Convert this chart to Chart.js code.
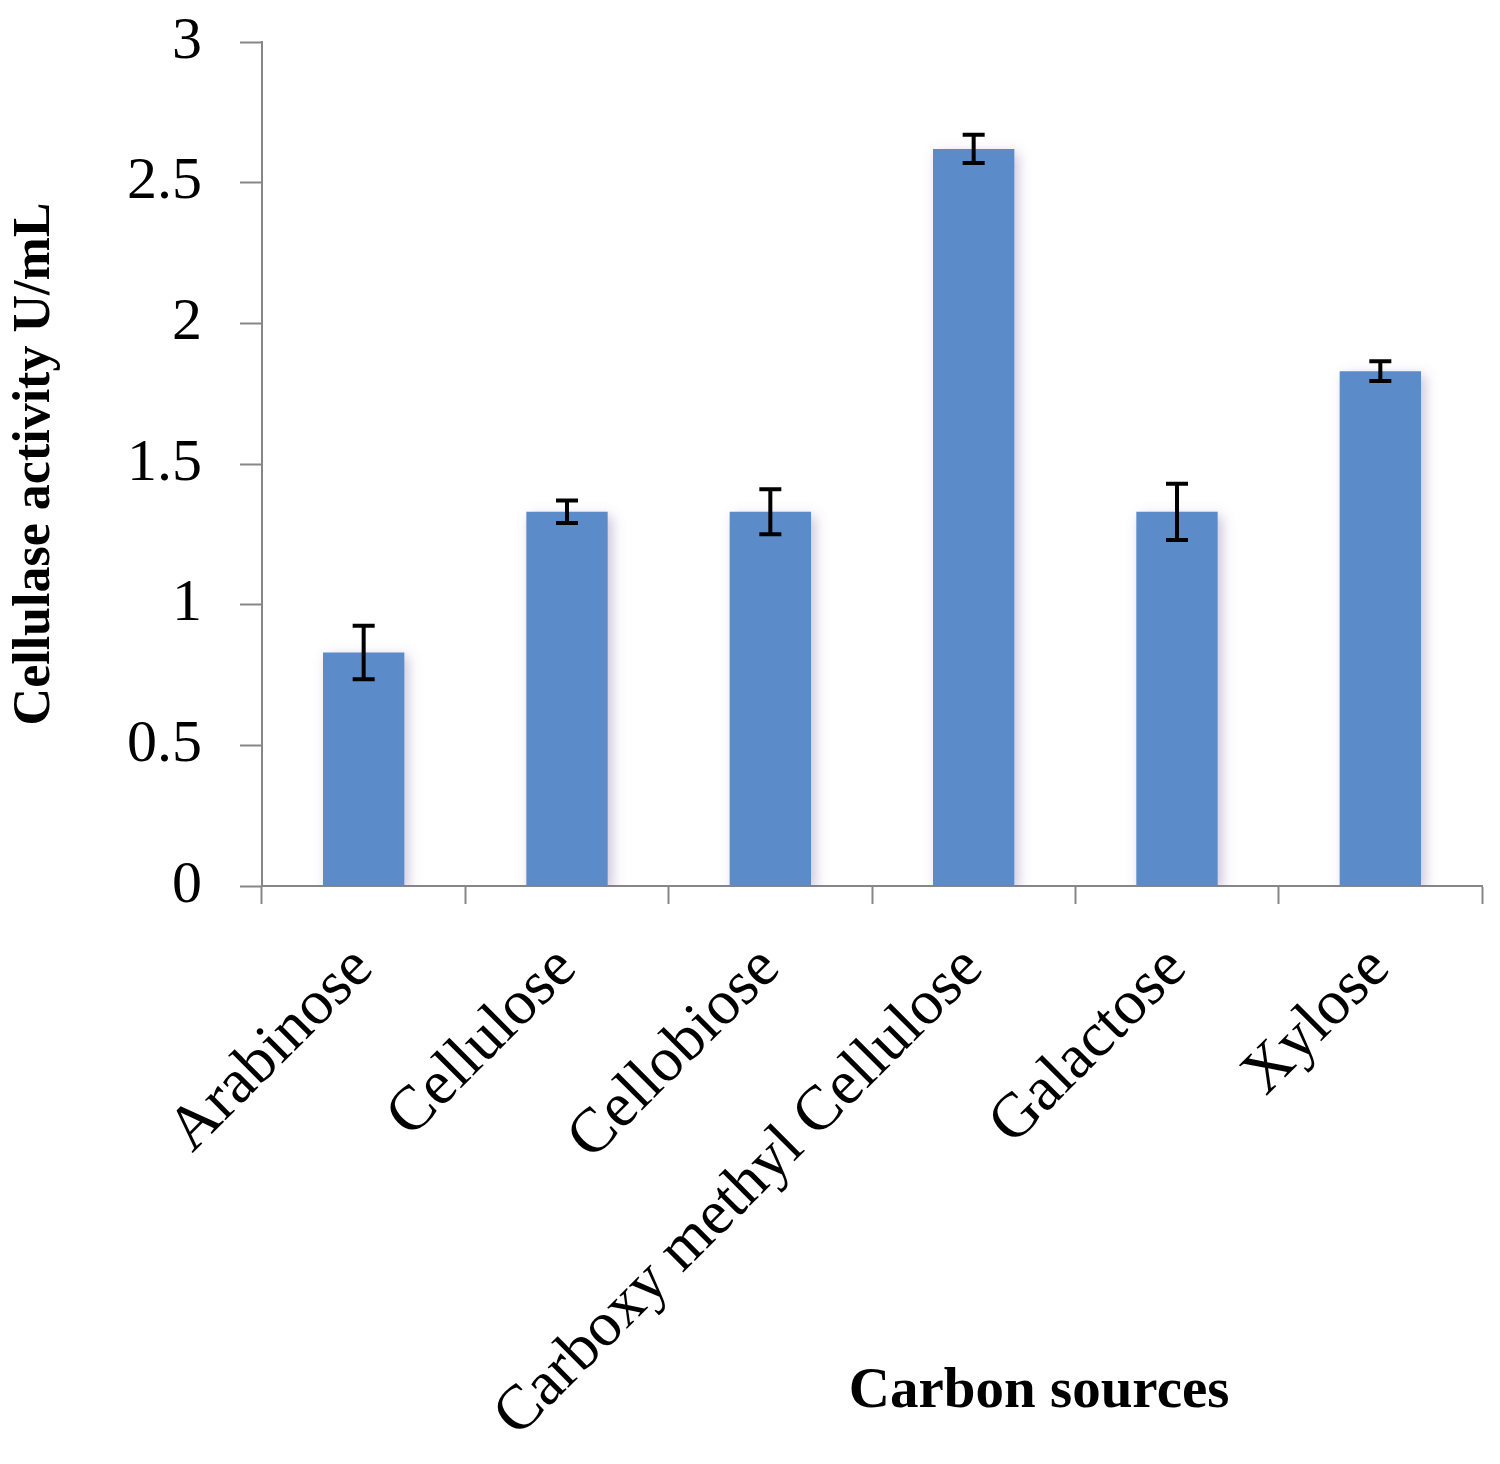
<!DOCTYPE html>
<html>
<head>
<meta charset="utf-8">
<script src="https://cdn.jsdelivr.net/npm/chart.js@4.4.0/dist/chart.umd.min.js"></script>
<style>
  html, body { margin: 0; padding: 0; background: #fff; }
  #wrap { width: 1500px; height: 1464px; }
</style>
</head>
<body>
<div id="wrap"><canvas id="barchart" width="1500" height="1464"></canvas></div>
<script>
const categories = ['Arabinose', 'Cellulose', 'Cellobiose', 'Carboxy methyl Cellulose', 'Galactose', 'Xylose'];
const activity = [0.83, 1.33, 1.33, 2.62, 1.33, 1.83]; // U/mL
const errors = [0.095, 0.04, 0.08, 0.05, 0.1, 0.035];
const yTicks = [0, 0.5, 1, 1.5, 2, 2.5, 3];

const serif = "'Liberation Serif', 'Times New Roman', serif";
const axisGray = '#878787';

// soft shadow under the bars, then error bars on top
const barExtras = {
  id: 'barExtras',
  beforeDatasetsDraw(chart) {
    const ctx = chart.ctx;
    ctx.save();
    ctx.shadowColor = 'rgba(110, 80, 150, 0.35)';
    ctx.shadowBlur = 12;
    ctx.shadowOffsetX = 4;
    ctx.shadowOffsetY = 4;
  },
  afterDatasetsDraw(chart) {
    const ctx = chart.ctx;
    ctx.restore();
    const y = chart.scales.y;
    const meta = chart.getDatasetMeta(0);
    ctx.save();
    ctx.strokeStyle = '#000';
    ctx.lineWidth = 4;
    meta.data.forEach((bar, i) => {
      const x = bar.x;
      const top = y.getPixelForValue(activity[i] + errors[i]);
      const bot = y.getPixelForValue(activity[i] - errors[i]);
      ctx.beginPath();
      ctx.moveTo(x, top); ctx.lineTo(x, bot);
      ctx.moveTo(x - 11, top); ctx.lineTo(x + 11, top);
      ctx.moveTo(x - 11, bot); ctx.lineTo(x + 11, bot);
      ctx.stroke();
    });
    ctx.restore();
  },
  afterDraw(chart) {
    // x axis title sits beside the long rotated label, not below it
    const ctx = chart.ctx;
    const area = chart.chartArea;
    ctx.save();
    ctx.fillStyle = '#000';
    ctx.font = 'bold 57px ' + serif;
    ctx.textAlign = 'center';
    ctx.textBaseline = 'middle';
    ctx.fillText('Carbon sources', area.left + (area.right - area.left) * 0.637, 1392);
    ctx.restore();
  }
};

const ctx = document.getElementById('barchart').getContext('2d');
const barchart = new Chart(ctx, {
  type: 'bar',
  data: {
    labels: categories,
    datasets: [{
      label: 'Cellulase activity',
      data: activity,
      backgroundColor: '#5B8CC9',
      borderWidth: 0,
      barPercentage: 0.8,
      categoryPercentage: 0.5
    }]
  },
  options: {
    responsive: false,
    animation: false,
    layout: { padding: { top: 42, right: 18, bottom: 0, left: 0 } },
    plugins: {
      legend: { display: false },
      tooltip: { enabled: false }
    },
    scales: {
      x: {
        grid: {
          drawOnChartArea: false,
          drawTicks: true,
          tickLength: 18,
          tickWidth: 2,
          tickColor: axisGray,
          offset: true
        },
        border: { color: axisGray, width: 2 },
        ticks: {
          color: '#000',
          font: { family: serif, size: 63 },
          minRotation: 45,
          maxRotation: 45,
          autoSkip: false,
          padding: 28
        },
        afterFit(scale) { scale.height = 578; }
      },
      y: {
        min: 0,
        max: 3,
        grid: {
          drawOnChartArea: false,
          drawTicks: true,
          tickLength: 22,
          tickWidth: 2,
          tickColor: axisGray
        },
        border: { color: axisGray, width: 2 },
        afterBuildTicks(scale) { scale.ticks = yTicks.map(v => ({ value: v })); },
        ticks: {
          color: '#000',
          font: { family: serif, size: 60 },
          padding: 38,
          callback: function(value) {
            return String(value);
          }
        },
        title: {
          display: true,
          text: 'Cellulase activity U/mL',
          color: '#000',
          font: { family: serif, size: 52, weight: 'bold' },
          padding: { top: 4, bottom: 0 }
        },
        afterFit(scale) {
          scale.width = 262;
          scale.paddingTop = 0;
          scale.paddingBottom = 0;
        }
      }
    }
  },
  plugins: [barExtras]
});
</script>
</body>
</html>
